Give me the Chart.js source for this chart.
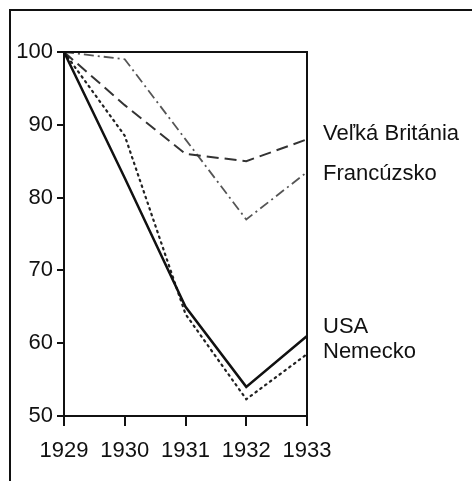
<!DOCTYPE html>
<html>
<head>
<meta charset="utf-8">
<script src="https://cdn.jsdelivr.net/npm/chart.js@4.4.1/dist/chart.umd.min.js"></script>
<style>
    html, body { margin: 0; padding: 0; background: #fff; }
    #wrap { position: relative; width: 472px; height: 481px; overflow: hidden; }
    #frame { position: absolute; left: 9px; top: 9px; width: 600px; height: 600px; border-left: 2px solid #111; border-top: 2px solid #111; }
    canvas { position: absolute; left: 0; top: 0; }
</style>
</head>
<body>
<div id="wrap">
    <div id="frame"></div>
    <canvas id="chart" width="472" height="481"></canvas>
</div>
<script>
// years and index values (1929 = 100)
const years = ['1929', '1930', '1931', '1932', '1933'];
const usa = [100, 82.7, 65, 54, 61];
const germany = [100, 88.5, 64, 52.3, 58.5];
const britain = [100, 92.7, 86, 85, 88];
const france = [100, 99, 88, 77, 83.5];
const yTicks = [50, 60, 70, 80, 90, 100];

// labels written at the right of the plot, with the value where their baseline sits
const endLabels = ['Veľká Británia', 'Francúzsko', 'USA', 'Nemecko'];
const endLabelValues = [87.9, 82.4, 61.4, 58.0];

const FONT = '"Liberation Sans", Arial, sans-serif';

// draws the top/right edges of the box and the country names
const boxAndLabels = {
    id: 'boxAndLabels',
    afterDraw(chart) {
        const { ctx, chartArea, scales } = chart;
        ctx.save();
        ctx.strokeStyle = '#111';
        ctx.lineWidth = 2;
        ctx.beginPath();
        ctx.moveTo(chartArea.left, chartArea.top);
        ctx.lineTo(chartArea.right, chartArea.top);
        ctx.lineTo(chartArea.right, chartArea.bottom);
        ctx.stroke();

        ctx.fillStyle = '#111';
        ctx.font = '22px ' + FONT;
        ctx.textAlign = 'left';
        ctx.textBaseline = 'alphabetic';
        endLabels.forEach((txt, i) => {
            ctx.fillText(txt, chartArea.right + 16, scales.y.getPixelForValue(endLabelValues[i]));
        });
        ctx.restore();
    }
};

const ctx = document.getElementById('chart').getContext('2d');
new Chart(ctx, {
    type: 'line',
    data: {
        labels: years,
        datasets: [
            { label: 'USA', data: usa, borderColor: '#111', borderWidth: 2.5 },
            { label: 'Nemecko', data: germany, borderColor: '#222', borderWidth: 2.2, borderDash: [1.5, 4.5], borderCapStyle: 'round' },
            { label: 'Veľká Británia', data: britain, borderColor: '#333', borderWidth: 2, borderDash: [12, 6] },
            { label: 'Francúzsko', data: france, borderColor: '#555', borderWidth: 1.8, borderDash: [10, 4, 2, 4] }
        ]
    },
    options: {
        responsive: false,
        animation: false,
        layout: { padding: { left: 0, right: 165, top: 52, bottom: 0 } },
        elements: {
            point: { radius: 0 },
            line: { tension: 0, fill: false }
        },
        plugins: {
            legend: { display: false },
            tooltip: { enabled: false }
        },
        scales: {
            x: {
                offset: false,
                grid: { display: true, drawOnChartArea: false, drawTicks: true, tickLength: 10, color: '#111', lineWidth: 2 },
                border: { display: true, color: '#111', width: 2 },
                ticks: { color: '#111', font: { family: FONT, size: 22 }, padding: 12, maxRotation: 0, autoSkip: false },
                afterFit: s => { s.height = 65; }
            },
            y: {
                min: 50,
                max: 100,
                afterBuildTicks: s => { s.ticks = yTicks.map(v => ({ value: v })); },
                grid: { display: true, drawOnChartArea: false, drawTicks: true, tickLength: 7, color: '#111', lineWidth: 2 },
                border: { display: true, color: '#111', width: 2 },
                ticks: { color: '#111', font: { family: FONT, size: 22 }, padding: 4 },
                afterFit: s => { s.width = 64; }
            }
        }
    },
    plugins: [boxAndLabels]
});
</script>
</body>
</html>
